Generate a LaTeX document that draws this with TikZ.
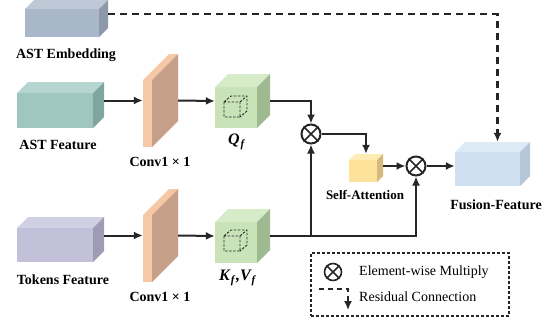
\documentclass[tikz,border=0pt]{standalone}
\usepackage{fontspec}
\setmainfont{Liberation Serif}
\usetikzlibrary{arrows.meta}

\definecolor{linec}{HTML}{262626}
\definecolor{embedF}{HTML}{A9B7CA}
\definecolor{embedT}{HTML}{BDC9D6}
\definecolor{embedS}{HTML}{8D99A8}
\definecolor{astF}{HTML}{A0C6C1}
\definecolor{astT}{HTML}{B6D5D1}
\definecolor{astS}{HTML}{80A4A0}
\definecolor{tokF}{HTML}{C3C1D9}
\definecolor{tokT}{HTML}{D1CFE4}
\definecolor{tokS}{HTML}{9E9BB4}
\definecolor{convF}{HTML}{F7C8A6}
\definecolor{convT}{HTML}{F7C8A6}
\definecolor{convS}{HTML}{C7A089}
\definecolor{qkvF}{HTML}{C9E3B8}
\definecolor{qkvT}{HTML}{D6ECC8}
\definecolor{qkvS}{HTML}{9FBA90}
\definecolor{attF}{HTML}{FCE29A}
\definecolor{attT}{HTML}{FEEBB5}
\definecolor{attS}{HTML}{D4BB7B}
\definecolor{fusF}{HTML}{CFE1F1}
\definecolor{fusT}{HTML}{DCEAF6}
\definecolor{fusS}{HTML}{B5C7D8}

% name, x, y (front top left), width, height, depth, colour prefix
\newcommand{\cuboid}[7]{%
  \fill[#7F] (#2,#3) rectangle ++(#4,#5);
  \fill[#7T] (#2,#3) -- ++(#6,-#6) -- ++(#4,0) -- ++(-#6,#6) -- cycle;
  \fill[#7S] ({#2+#4},#3) -- ++(#6,-#6) -- ++(0,#5) -- ++(-#6,#6) -- cycle;
  \node[inner sep=0pt, minimum width={(#4+#6)*1pt}, minimum height={(#5+#6)*1pt}] (#1) at ({#2+(#4+#6)/2},{#3+(#5-#6)/2}) {};
}
\newcommand{\dashcube}[2]{%
  \draw[linec, line width=0.9pt, dash pattern=on 2.5pt off 1.5pt] (#1,#2) rectangle ++(16,15)
    (#1,#2) -- ++(7,-6) -- ++(16,0) -- ++(0,15) -- ++(-7,6)
    ({#1+16},#2) -- ++(7,-6);
}
\newcommand{\featsub}[1]{\kern1pt\raisebox{-3.5pt}{\fontsize{11}{11}\selectfont #1}\kern1.5pt}

\begin{document}
\begin{tikzpicture}[x=1pt, y=-1pt,
  lbl/.style={font=\fontsize{14}{16}\selectfont\bfseries, inner sep=0pt},
  legtxt/.style={font=\fontsize{14}{16}\selectfont, inner sep=0pt},
  arr/.style={draw=linec, line width=2pt, -{Latex[length=9pt,width=8pt]}},
  res/.style={dash pattern=on 7pt off 5pt},
  mul/.style={circle, draw=linec, line width=2pt, minimum size=19pt, inner sep=0pt}]
\useasboundingbox (0,0) rectangle (559,324);

\cuboid{embed}{25}{9}{74}{28}{9}{embed}
\cuboid{ast}{17}{93}{76}{35}{11}{ast}
\cuboid{tok}{17}{228}{76}{34}{11}{tok}
\cuboid{convA}{143}{80}{9}{67}{26}{conv}
\cuboid{convB}{143}{215}{9}{67}{26}{conv}
\cuboid{q}{215}{87}{42}{41}{13}{qkv}
\cuboid{kv}{215}{222}{42}{41}{13}{qkv}
\cuboid{att}{349}{160}{28}{22}{6}{att}
\cuboid{fus}{455}{152}{65}{34}{10}{fus}
\dashcube{224}{102}
\dashcube{224}{236}

\node [lbl] (embedlbl) at (66,55) {AST Embedding};
\node [lbl] (astlbl) at (58,145) {AST Feature};
\node [lbl] (toklbl) at (63,280) {Tokens Feature};
\node [lbl] (convAlbl) at (160,162) {Conv1 × 1};
\node [lbl] (convBlbl) at (160,297) {Conv1 × 1};
\node [lbl, font=\fontsize{16}{18}\selectfont\bfseries\itshape] (qlbl) at (237,142) {Q\featsub{f}};
\node [lbl, font=\fontsize{16}{18}\selectfont\bfseries\itshape] (kvlbl) at (238,278) {K\featsub{f},V\featsub{f}};
\node [lbl, font=\fontsize{13}{15}\selectfont\bfseries] (attlbl) at (365,195) {Self-Attention};
\node [lbl] (fuslbl) at (496,205) {Fusion-Feature};

\node [mul] (mul1) at (311,134) {};
\node [mul] (mul2) at (416,166) {};

\draw [arr] (ast.east |- convA.west) -- (convA.west);
\draw [arr] (convA.east) -- (q.west);
\draw [arr] (tok.east |- convB.west) -- (convB.west);
\draw [arr] (convB.east) -- (kv.west);
\draw [arr] (q.east) -| (mul1.north);
\draw [arr] (kv.east) -| (mul2.south);
\draw [arr] (mul1.south |- kv.east) -- (mul1.south);
\draw [arr] (mul1.east) -| (att.north);
\draw [arr] (att.east |- mul2.west) -- (mul2.west);
\draw [arr] (mul2.east) -- (fus.west |- mul2.east);
\draw [arr, res, line width=2.2pt] ([yshift=4.5pt]embed.east) -| ([xshift=5pt]fus.north);

% legend
\node [draw=linec, line width=1.1pt, dash pattern=on 3pt off 2pt, minimum width=198pt, minimum height=63pt, inner sep=0pt] (legend) at (410,284.5) {};
\node [mul, minimum size=17pt, line width=1.6pt] (mul3) at (333,272) {};
\node [legtxt, anchor=west] (multxt) at (359,272) {Element-wise Multiply};
\coordinate (resA) at (319,289);
\coordinate (resB) at (348,310);
\draw [arr, line width=1.6pt, dash pattern=on 5pt off 4pt] (resA) -| (resB);
\node [legtxt, anchor=west] (restxt) at (359,297) {Residual Connection};

\foreach \m in {mul1,mul2,mul3}
  \draw [linec, line width=1.6pt] (\m.45) -- (\m.225) (\m.135) -- (\m.315);
\end{tikzpicture}
\end{document}
